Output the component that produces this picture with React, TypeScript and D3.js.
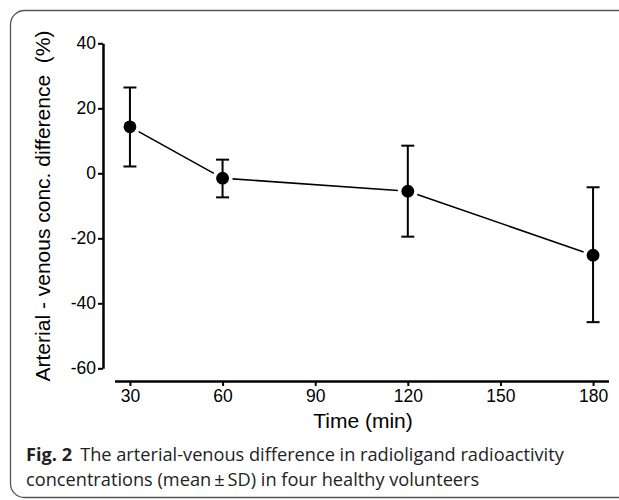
import { useEffect, useRef } from "react";
import * as d3 from "d3";

// data (mean and SD bounds)
const times = [30, 60, 120, 180];
const means = [14.3, -1.5, -5.5, -25.2];
const upper = [26.4, 4.2, 8.5, -4.3];
const lower = [2.1, -7.4, -19.5, -45.8];
const xTicks = [30, 60, 90, 120, 150, 180];
const yTicks = [-60, -40, -20, 0, 20, 40];

const W = 619;
const H = 500;

const App = () => {
  const svgRef = useRef<SVGSVGElement>(null);

  useEffect(() => {
    document.body.style.margin = "0";
    const svg = d3.select(svgRef.current);
    svg.selectAll("*").remove();

    const x = d3.scaleLinear().domain([25, 185]).range([114.5, 608.5]);
    const y = d3.scaleLinear().domain([-60, 40]).range([368.3, 43.3]);
    const axisX = 103;
    const axisY = 381;

    // frame around the figure
    svg
      .append("rect")
      .attr("x", 10.5)
      .attr("y", 10.5)
      .attr("width", 700)
      .attr("height", 487)
      .attr("rx", 14)
      .attr("fill", "none")
      .attr("stroke", "#555")
      .attr("stroke-width", 1.3);

    const font = "Liberation Sans, Arial, sans-serif";
    const fmt = (d) => String(d); // plain hyphen for negatives

    // y axis
    const gy = svg
      .append("g")
      .attr("transform", `translate(${axisX},0)`)
      .call(d3.axisLeft(y).tickValues(yTicks).tickFormat(fmt).tickSize(5).tickPadding(2).tickSizeOuter(0));
    gy.select(".domain").attr("stroke", "#000").attr("stroke-width", 2.5);
    gy.selectAll(".tick line").attr("stroke", "#000").attr("stroke-width", 2);
    gy.selectAll(".tick text")
      .attr("font-family", font)
      .attr("font-size", 17.5)
      .attr("fill", "#000");

    // x axis
    const gx = svg
      .append("g")
      .attr("transform", `translate(0,${axisY})`)
      .call(d3.axisBottom(x).tickValues(xTicks).tickFormat(fmt).tickSize(5).tickPadding(4).tickSizeOuter(0));
    gx.select(".domain").attr("stroke", "#000").attr("stroke-width", 2.5);
    gx.selectAll(".tick line").attr("stroke", "#000").attr("stroke-width", 2);
    gx.selectAll(".tick text")
      .attr("font-family", font)
      .attr("font-size", 17.5)
      .attr("fill", "#000");

    // axis titles
    svg
      .append("text")
      .attr("x", 363)
      .attr("y", 428)
      .attr("text-anchor", "middle")
      .attr("font-family", font)
      .attr("font-size", 21)
      .text("Time (min)");

    svg
      .append("text")
      .attr("transform", "translate(50,206) rotate(-90)")
      .attr("text-anchor", "middle")
      .attr("font-family", font)
      .attr("font-size", 21)
      .attr("xml:space", "preserve")
      .text("Arterial - venous conc. difference  (%)");

    // connecting line, with small gaps round the markers
    const pts = times.map((t, i) => [x(t), y(means[i])]);
    const gap = 10;
    for (let i = 0; i < pts.length - 1; i++) {
      const [x1, y1] = pts[i];
      const [x2, y2] = pts[i + 1];
      const len = Math.hypot(x2 - x1, y2 - y1);
      const ux = (x2 - x1) / len;
      const uy = (y2 - y1) / len;
      svg
        .append("line")
        .attr("x1", x1 + ux * gap)
        .attr("y1", y1 + uy * gap)
        .attr("x2", x2 - ux * gap)
        .attr("y2", y2 - uy * gap)
        .attr("stroke", "#000")
        .attr("stroke-width", 1.6);
    }

    // error bars
    const bars = svg.append("g").attr("stroke", "#000").attr("stroke-width", 2);
    times.forEach((t, i) => {
      const cx = x(t);
      bars.append("line").attr("x1", cx).attr("x2", cx).attr("y1", y(upper[i])).attr("y2", y(lower[i]));
      [upper[i], lower[i]].forEach((v) => {
        bars
          .append("line")
          .attr("x1", cx - 6.5)
          .attr("x2", cx + 6.5)
          .attr("y1", y(v))
          .attr("y2", y(v));
      });
    });

    // markers
    svg
      .append("g")
      .selectAll("circle")
      .data(times)
      .enter()
      .append("circle")
      .attr("cx", (d) => x(d))
      .attr("cy", (d, i) => y(means[i]))
      .attr("r", 6.4)
      .attr("fill", "#000");

    // caption
    const cap = svg
      .append("text")
      .attr("x", 26)
      .attr("y", 461)
      .attr("font-family", "Open Sans, sans-serif")
      .attr("font-size", 18.2)
      .attr("fill", "#222");
    cap.append("tspan").attr("font-weight", "bold").text("Fig. 2");
    cap.append("tspan").attr("dx", 8).text("The arterial-venous difference in radioligand radioactivity");
    svg
      .append("text")
      .attr("x", 26)
      .attr("y", 486)
      .attr("font-family", "Open Sans, sans-serif")
      .attr("font-size", 18.2)
      .attr("fill", "#222")
      .text("concentrations (mean\u2009\u00b1\u2009SD) in four healthy volunteers");
  }, []);

  return <svg ref={svgRef} width={W} height={H} style={{ display: "block" }}></svg>;
};

export default App;
